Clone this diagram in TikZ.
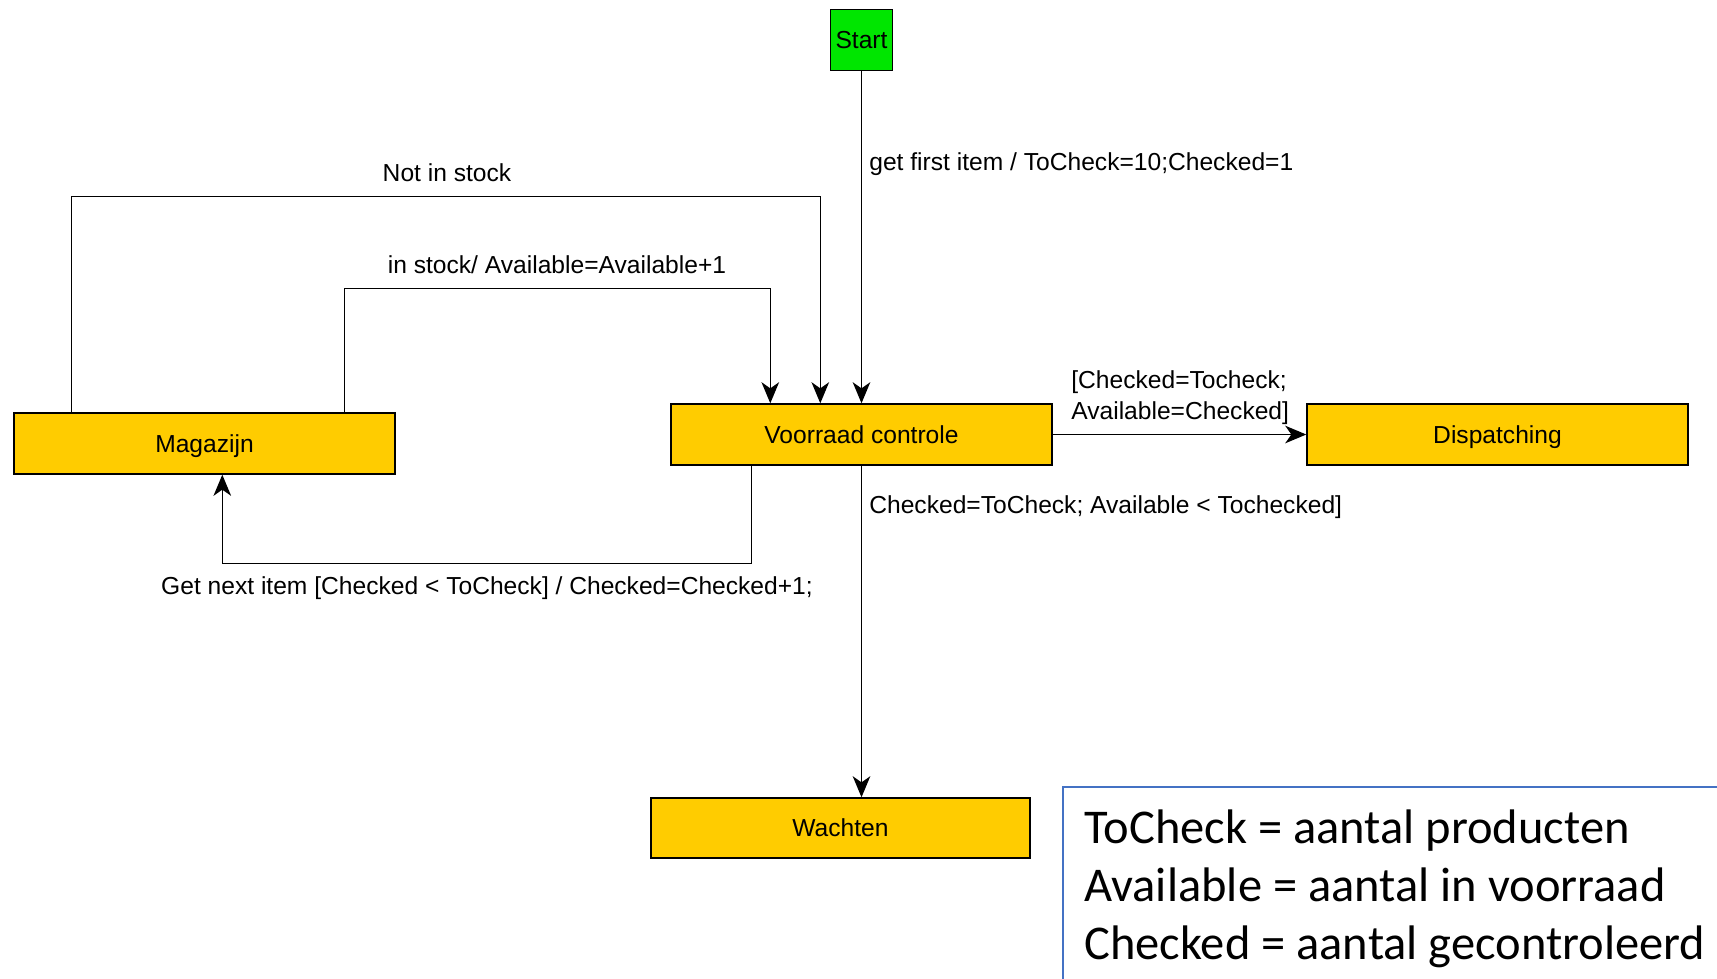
\documentclass[tikz,border=0pt]{standalone}
\usepackage{fontspec}
\setmainfont{Liberation Sans}
\newfontfamily\legendfont{Carlito}
\definecolor{stateyellow}{RGB}{255, 204, 0}
\definecolor{startgreen}{RGB}{0, 230, 0}
\definecolor{legendblue}{RGB}{68, 114, 196}
\usetikzlibrary{arrows.meta, positioning}

\begin{document}
\begin{tikzpicture}[
  state/.style={draw=black, line width=0.8pt, fill=stateyellow, minimum width=7.62cm,
                minimum height=1.22cm, inner sep=0pt, text height=10pt, text depth=0pt,
                font=\fontsize{14}{16}\selectfont},
  trans/.style={draw=black, line width=0.85pt, -{Stealth[length=12pt, width=10pt, inset=3.5pt]}},
  lbl/.style={inner sep=0pt, font=\fontsize{14}{16}\selectfont},
]
\clip (0, 0) rectangle (34.34, -19.56);

% States
\node[state, fill=startgreen, minimum width=1.24cm] (start) at (17.23, -0.80) {Start};
\node[state] (voorraad) at (17.23, -8.69) {Voorraad controle};
\node[state] (magazijn) at (4.09, -8.87) {Magazijn};
\node[state] (dispatching) at (29.95, -8.69) {Dispatching};
\node[state, minimum width=7.58cm, minimum height=1.20cm] (wachten) at (16.81, -16.56) {Wachten};

% Transitions
\draw[trans] (start) -- (voorraad);
\draw[trans] ([xshift=1.16cm]magazijn.north west) |- ([xshift=3cm, yshift=4.14cm]voorraad.north west)
  -- ([xshift=3cm]voorraad.north west);
\draw[trans] ([xshift=6.62cm]magazijn.north west) |- ([xshift=2cm, yshift=2.30cm]voorraad.north west)
  -- ([xshift=2cm]voorraad.north west);
\draw[trans] ([xshift=1.62cm]voorraad.south west) |- ([xshift=4.18cm, yshift=-1.78cm]magazijn.south west)
  -- ([xshift=4.18cm]magazijn.south west);
\draw[trans] (voorraad) -- (dispatching);
\draw[trans] (voorraad.south) -- (voorraad.south |- wachten.north);

% Labels
\node[lbl] (lnot) at (8.94, -3.46) {Not in stock};
\node[lbl] (lin) at (11.14, -5.30) {in stock/ Available=Available+1};
\node[lbl, anchor=west] (lfirst) at (17.38, -3.28) {get first item / ToCheck=10;Checked=1};
\node[lbl] (lnext) at (9.74, -11.76) {Get next item [Checked < ToCheck] / Checked=Checked+1;};
\node[lbl, anchor=west, align=left, font=\fontsize{14}{17.4}\selectfont] (ldisp) at (21.42, -7.95)
{[Checked=Tocheck;\\Available=Checked]};
\node[lbl, anchor=west] (lwait) at (17.38, -10.14) {Checked=ToCheck; Available < Tochecked]};

% Legend (frame runs off the page)
\node[anchor=north west, align=left, inner xsep=0.42cm, inner ysep=0.45cm,
      font=\legendfont\fontsize{27.6}{33}\selectfont] (legend) at (21.26, -15.74)
{ToCheck = aantal producten\\Available = aantal in voorraad\\Checked = aantal gecontroleerd};
\draw[legendblue, line width=0.8pt] ([yshift=-1cm]legend.south west) |- ([xshift=2cm]legend.north east);
\end{tikzpicture}
\end{document}
